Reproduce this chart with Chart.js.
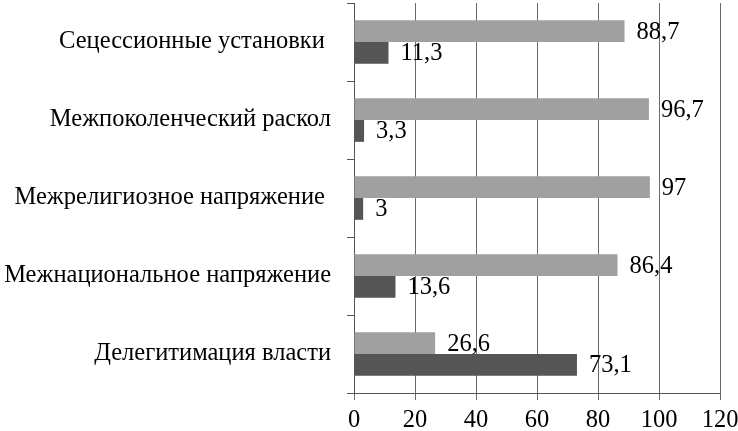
<!DOCTYPE html>
<html lang="ru">
<head>
	<meta charset="utf-8" />
	<title>Конфликтный потенциал</title>
	<style>
		html, body { margin: 0; padding: 0; background: #fff; }
		#wrap { width: 738px; height: 431px; }
	</style>
</head>
<body>
	<div id="wrap"><canvas id="c1"></canvas></div>
	<script src="https://cdn.jsdelivr.net/npm/chart.js@4/dist/chart.umd.min.js"></script>
	<script>
	var categories = [
		'Сецессионные установки ',
		'Межпоколенческий раскол',
		'Межрелигиозное напряжение ',
		'Межнациональное напряжение',
		'Делегитимация власти'
	];
	var lightValues = [88.7, 96.7, 97, 86.4, 26.6];
	var darkValues = [11.3, 3.3, 3, 13.6, 73.1];
	var xTicks = [0, 20, 40, 60, 80, 100, 120];

	var FONT = {family: '"Liberation Serif", "Times New Roman", serif', size: 24.5};

	function fmt(v)
	{
		return String(v).replace('.', ',');
	}

	// value labels at the end of every bar
	var valueLabels = {
		id: 'valueLabels',
		afterDatasetsDraw: function(chart) {
			var ctx = chart.ctx;
			ctx.save();
			ctx.font = FONT.size + 'px ' + FONT.family;
			ctx.fillStyle = '#000';
			ctx.textAlign = 'left';
			ctx.textBaseline = 'middle';
			chart.data.datasets.forEach(function(ds, i) {
				chart.getDatasetMeta(i).data.forEach(function(bar, j) {
					ctx.fillText(fmt(ds.data[j]), bar.x + 12, bar.y + 1);
				});
			});
			ctx.restore();
		}
	};

	var config = {
		type: 'bar',
		plugins: [valueLabels],
		data: {
			labels: categories,
			datasets: [
				{label: 'light', data: lightValues, backgroundColor: '#a0a0a0'},
				{label: 'dark', data: darkValues, backgroundColor: '#555555'}
			]
		},
		options: {
			indexAxis: 'y',
			animation: false,
			responsive: true,
			maintainAspectRatio: false,
			layout: {padding: {top: 3, right: 18, left: 0, bottom: 0}},
			datasets: {
				bar: {categoryPercentage: 0.56, barPercentage: 1.0}
			},
			plugins: {
				legend: {display: false},
				tooltip: {enabled: false}
			},
			scales: {
				x: {
					min: 0,
					max: 120,
					afterBuildTicks: function(scale) {
						scale.ticks = xTicks.map(function(v) { return {value: v}; });
					},
					ticks: {color: '#000', font: FONT, padding: 6, maxRotation: 0},
					grid: {color: '#6a6a6a', lineWidth: 1, tickLength: 7},
					border: {color: '#555', width: 1},
					afterFit: function(scale) {
						scale.height = 38;
						scale.paddingLeft = 0;
						scale.paddingRight = 0;
					}
				},
				y: {
					ticks: {color: '#000', font: FONT, padding: 16},
					grid: {drawOnChartArea: false, color: '#555', tickLength: 7, offset: true},
					border: {color: '#555', width: 1},
					afterFit: function(scale) {
						scale.width = 354;
						scale.paddingTop = 0;
						scale.paddingBottom = 0;
					}
				}
			}
		}
	};

	var chart = new Chart(document.getElementById('c1'), config);
	</script>
</body>
</html>
